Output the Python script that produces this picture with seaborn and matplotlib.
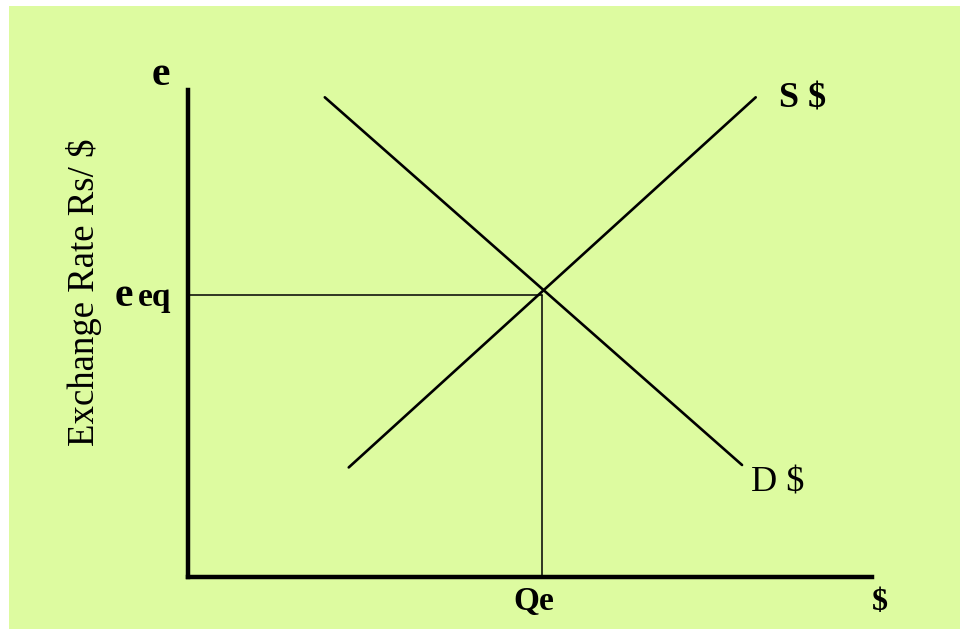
import matplotlib
matplotlib.use("Agg")
import matplotlib.pyplot as plt
import seaborn as sns
import pandas as pd
from matplotlib.patches import Rectangle

# 曲线端点（数据单位，坐标轴 0-10）
demand_q = [2.0, 8.1]
demand_e = [9.85, 2.3]
supply_q = [2.35, 8.3]
supply_e = [2.25, 9.85]
q_eq = 5.18
e_eq = 5.79

sns.set_theme(style="white")
plt.rcParams['font.family'] = ['Liberation Serif', 'DejaVu Serif']
plt.rcParams['text.color'] = 'black'

fig = plt.figure(figsize=(9.6, 6.29), dpi=100)
fig.patch.set_facecolor("white")
# 浅绿色背景（放在坐标轴下面）
fig.add_artist(Rectangle((9 / 960, 0), 1, (629 - 6) / 629, transform=fig.transFigure,
                         facecolor="#ddfba0", edgecolor="none", zorder=-10))

ax = fig.add_axes([188 / 960, 52 / 629, 684 / 960, 487 / 629])
ax.set_facecolor("none")

df_d = pd.DataFrame({"q": demand_q, "e": demand_e})
df_s = pd.DataFrame({"q": supply_q, "e": supply_e})
sns.lineplot(data=df_d, x="q", y="e", color="black", linewidth=1.9, ax=ax, sort=False)
sns.lineplot(data=df_s, x="q", y="e", color="black", linewidth=1.9, ax=ax, sort=False)

# 均衡点的辅助线
ax.plot([0, q_eq], [e_eq, e_eq], color="black", linewidth=1.1)
ax.plot([q_eq, q_eq], [0, e_eq], color="black", linewidth=1.1)

ax.set_xlim(0, 10)
ax.set_ylim(0, 10)
ax.set_xticks([])
ax.set_yticks([])
ax.set_xlabel("")
ax.set_ylabel("")
for s in ["top", "right"]:
    ax.spines[s].set_visible(False)
for s in ["left", "bottom"]:
    ax.spines[s].set_linewidth(3.2)
    ax.spines[s].set_color("black")

# 文字标注
ax.text(-0.4, 10.1, "e", fontsize=30, fontweight="bold", ha="center", va="baseline", clip_on=False)
ax.text(-0.94, e_eq - 0.23, "e", fontsize=30, fontweight="bold", ha="center", va="baseline", clip_on=False)
ax.text(-0.74, e_eq - 0.23, "eq", fontsize=24, fontweight="bold", ha="left", va="baseline", clip_on=False)
ax.text(8.64, 9.65, "S $", fontsize=26, fontweight="bold", ha="left", va="baseline", clip_on=False)
ax.text(8.23, 1.75, "D $", fontsize=26, ha="left", va="baseline", clip_on=False)
ax.text(q_eq - 0.12, -0.68, "Qe", fontsize=24, fontweight="bold", ha="center", va="baseline", clip_on=False)
ax.text(10.12, -0.68, "$", fontsize=23, fontweight="bold", ha="center", va="baseline", clip_on=False)
ax.text(-1.52, 5.85, "Exchange Rate Rs/ $", fontsize=26.5, rotation=90, ha="center", va="center", clip_on=False)

plt.savefig("out.png", dpi=100)
